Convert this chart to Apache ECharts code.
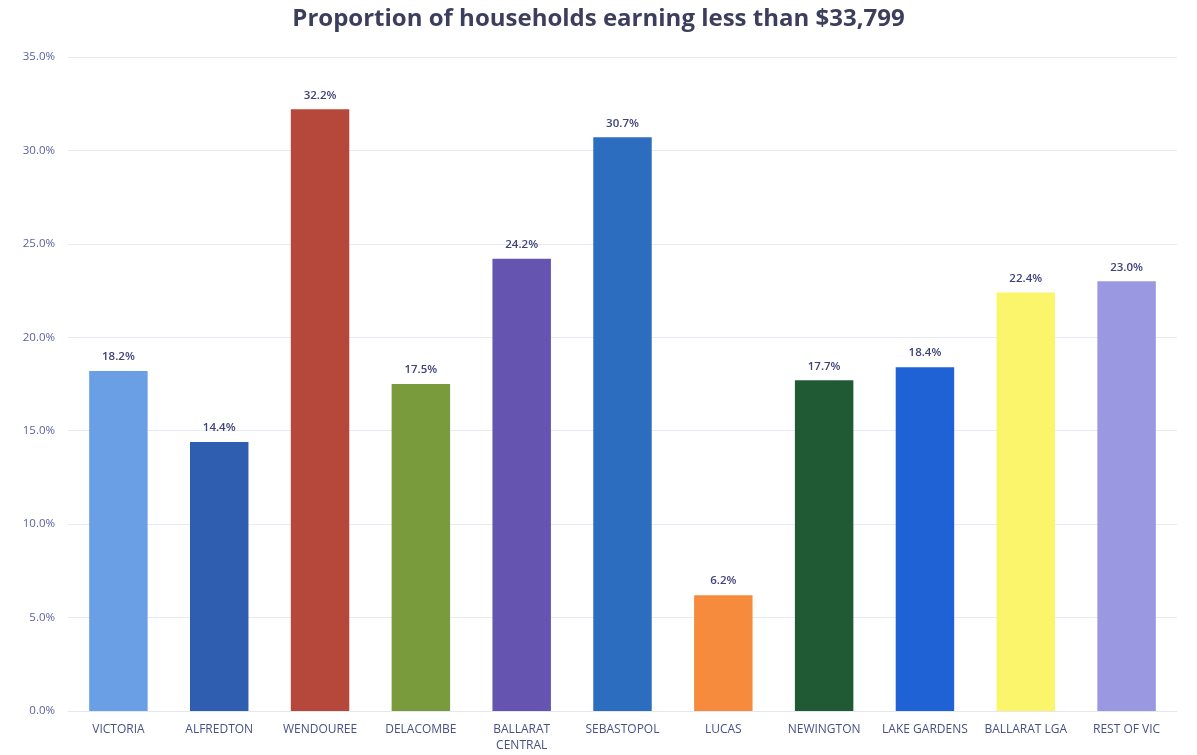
<!DOCTYPE html>
<html>
<head>
<meta charset="utf-8">
<script src="https://cdn.jsdelivr.net/npm/echarts@6/dist/echarts.min.js"></script>
<style>
  html, body { margin: 0; padding: 0; background: #fff; }
  #chart { width: 1197px; height: 755px; }
</style>
</head>
<body>
<div id="chart"></div>
<script>
// Suburbs / regions along the x axis
var categories = ['VICTORIA', 'ALFREDTON', 'WENDOUREE', 'DELACOMBE', 'BALLARAT\nCENTRAL',
    'SEBASTOPOL', 'LUCAS', 'NEWINGTON', 'LAKE GARDENS', 'BALLARAT LGA', 'REST OF VIC'];

// Share of households earning less than $33,799 (%)
var shares = [18.2, 14.4, 32.2, 17.5, 24.2, 30.7, 6.2, 17.7, 18.4, 22.4, 23.0];

// One colour per bar
var barColors = ['#6a9fe6', '#2f5db0', '#b6473b', '#7a9b3b', '#6554b0', '#2d6dbf',
    '#f78b3d', '#1f5a35', '#1f62d6', '#fbf56c', '#9a98e0'];

var chart = echarts.init(document.getElementById('chart'));

var option = {
    backgroundColor: '#fff',
    title: {
        text: 'Proportion of households earning less than $33,799',
        left: 'center',
        top: 2,
        textStyle: {
            fontFamily: 'Open Sans',
            fontWeight: 'bold',
            fontSize: 24,
            color: '#3b3f5c'
        }
    },
    grid: { left: 68, right: 20, top: 57, bottom: 44 },
    xAxis: {
        type: 'category',
        data: categories,
        axisLine: { lineStyle: { color: '#e4e6f0' } },
        axisTick: { show: false },
        axisLabel: {
            color: '#4a4f86',
            fontFamily: 'Open Sans',
            fontSize: 12,
            interval: 0,
            margin: 11,
            lineHeight: 16
        }
    },
    yAxis: {
        type: 'value',
        min: 0,
        max: 35,
        interval: 5,
        axisLine: { show: false },
        axisTick: { show: false },
        splitLine: { lineStyle: { color: '#e8eaf4' } },
        axisLabel: {
            color: '#5a5fa0',
            fontFamily: 'Open Sans',
            fontSize: 11.5,
            margin: 13,
            formatter: function (v) { return v.toFixed(1) + '%'; }
        }
    },
    series: [{
        type: 'bar',
        data: shares.map(function (v, i) {
            return { value: v, itemStyle: { color: barColors[i] } };
        }),
        barWidth: '58%',
        label: {
            show: true,
            position: 'top',
            distance: 8,
            color: '#3d427a',
            fontFamily: 'Open Sans',
            fontWeight: 600,
            fontSize: 11.5,
            formatter: function (p) { return p.value.toFixed(1) + '%'; }
        }
    }]
};

chart.setOption(option);
</script>
</body>
</html>
